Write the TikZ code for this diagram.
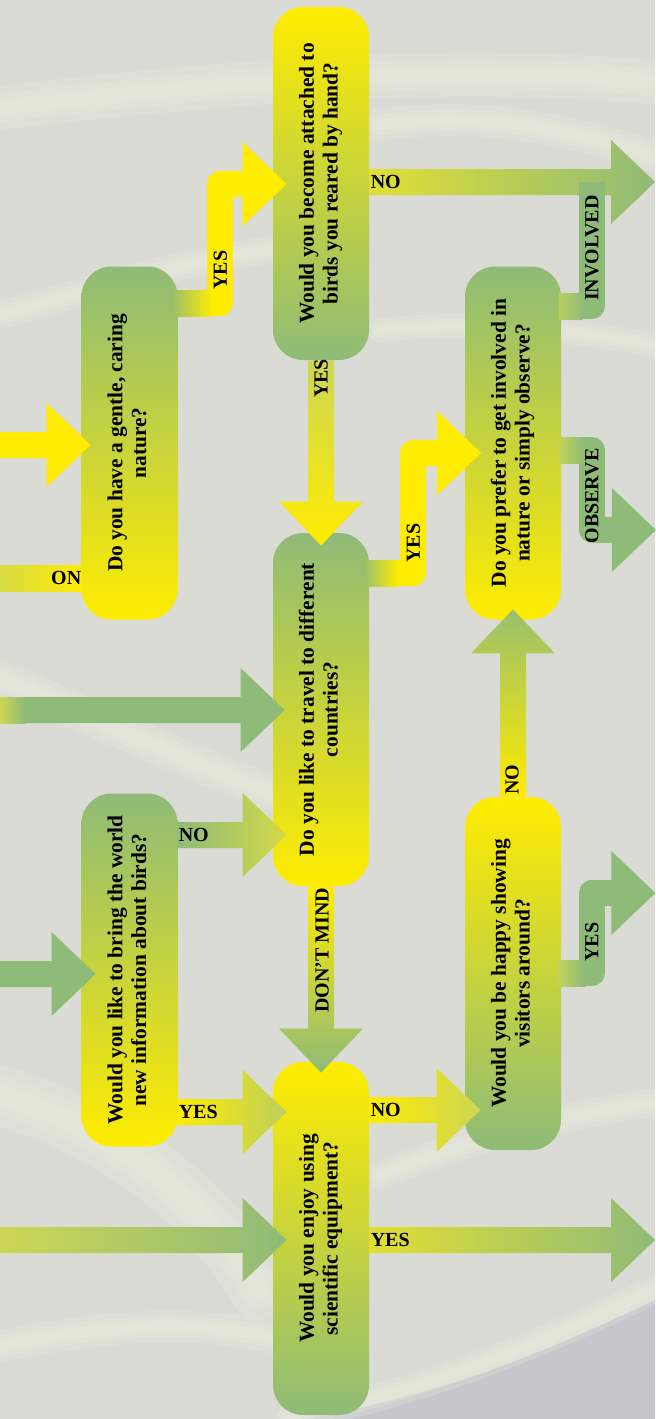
\documentclass[tikz,border=0pt]{standalone}
\usepackage{fontspec}
\setmainfont{Liberation Serif}
\usetikzlibrary{calc}
\definecolor{YE}{HTML}{FFEC00}
\definecolor{GR}{HTML}{8FBB78}
\definecolor{MID}{HTML}{CDD655}
\definecolor{BG}{HTML}{DADBD5}
\definecolor{LT}{HTML}{EEF0DF}
\definecolor{DK}{HTML}{C6C6CB}
\newcommand\harrow[3]{\path[#3] ($(#1)+(0,-13)$) -- ($(#2)+(-44,-13)$) -- ($(#2)+(-44,-42)$) -- (#2) -- ($(#2)+(-44,42)$) -- ($(#2)+(-44,13)$) -- ($(#1)+(0,13)$) -- cycle;}
\newcommand\vdown[3]{\path[#3] ($(#1)+(-13,0)$) -- ($(#2)+(-13,-44)$) -- ($(#2)+(-42,-44)$) -- (#2) -- ($(#2)+(42,-44)$) -- ($(#2)+(13,-44)$) -- ($(#1)+(13,0)$) -- cycle;}
\newcommand\vup[3]{\path[#3] ($(#1)+(-13,0)$) -- ($(#2)+(-13,44)$) -- ($(#2)+(-42,44)$) -- (#2) -- ($(#2)+(42,44)$) -- ($(#2)+(13,44)$) -- ($(#1)+(13,0)$) -- cycle;}
\newcommand\headR[2]{\path[#2] ($(#1)+(-44,-42)$) -- (#1) -- ($(#1)+(-44,42)$) -- cycle;}
\newcommand\qtext[2]{\rotatebox{90}{\begin{tabular}{@{}c@{}}#1\\#2\end{tabular}}}
\newcommand\softband[2]{%
 \draw[LT,opacity=.22,line width=#1*1pt,line cap=round] #2;
 \draw[LT,opacity=.22,line width=#1*0.65pt,line cap=round] #2;
 \draw[LT,opacity=.25,line width=#1*0.35pt,line cap=round] #2;}
\begin{document}
\begin{tikzpicture}[x=0.5pt,y=-0.5pt,
 box/.style={rectangle,rounded corners=15pt,minimum width=48pt,minimum height=176.5pt,inner sep=0pt,font=\bfseries\fontsize{10.7}{11.8}\selectfont},
 yg/.style={top color=YE,bottom color=GR},
 gy/.style={top color=GR,bottom color=YE},
 lbl/.style={inner sep=0pt,font=\bfseries\fontsize{10}{12}\selectfont},
 vlbl/.style={lbl,rotate=90},
 elbow/.style={line width=13pt,line join=round},
 ]
\useasboundingbox (0,0) rectangle (655,1419);
% background
\fill[BG] (0,0) rectangle (655,1419);
\begin{scope}
\clip (0,0) rectangle (655,1419);
\softband{22}{(-20,110) .. controls (200,85) and (450,60) .. (680,85)}
\softband{16}{(380,125) .. controls (480,110) and (580,130) .. (680,165)}
\softband{14}{(-20,320) .. controls (80,295) and (160,265) .. (270,250)}
\softband{18}{(-20,670) .. controls (90,715) and (180,760) .. (290,800)}
\softband{30}{(-20,1090) .. controls (100,1120) and (200,1190) .. (260,1290)}
\softband{14}{(380,1175) .. controls (480,1135) and (580,1110) .. (680,1100)}
\softband{16}{(-20,1350) .. controls (120,1320) and (220,1320) .. (300,1345)}
\softband{12}{(380,330) .. controls (480,320) and (580,330) .. (680,350)}
\fill[DK] (300,1419) .. controls (450,1395) and (560,1345) .. (655,1300) -- (655,1419) -- cycle;
\softband{14}{(290,1419) .. controls (450,1385) and (560,1335) .. (680,1278)}
\end{scope}
% boxes
\node[box,yg] (B1) at (321,183.5) {\qtext{Would you become attached to}{birds you reared by hand?}};
\node[box,gy] (B2) at (129.5,443) {\qtext{Do you have a gentle, caring}{nature?}};
\node[box,gy] (B3) at (513,443) {\qtext{Do you prefer to get involved in}{nature or simply observe?}};
\node[box,gy] (B4) at (321,709.5) {\qtext{Do you like to travel to different}{countries?}};
\node[box,gy] (B5) at (129.5,970) {\qtext{Would you like to bring the world}{new information about birds?}};
\node[box,yg] (B6) at (321,1238.5) {\qtext{Would you enjoy using}{scientific equipment?}};
\node[box,yg] (B7) at (513,973.5) {\qtext{Would you be happy showing}{visitors around?}};
% helper coordinates
\coordinate (L) at (0,0);
\coordinate (R) at (655,0);
\coordinate (B4tip) at ($(B4.west)+(14,0)$);
\coordinate (B6tip) at ($(B6.west)+(14,0)$);
\coordinate (B7tip) at ($(B7.west)+(16,0)$);
\coordinate (a6c) at ($(B2.east)+(42.5,0)$);
\coordinate (a10c) at ($(B4.east)+(44,0)$);
\coordinate (a8c) at ($(B3.east)+(30.5,0)$);
% A1 incoming yellow to B2
\coordinate (a1t) at ($(B2.west)+(9.5,2)$);
\harrow{a1t -| L}{a1t}{fill=YE}
% A2 "ON" bar from B2
\coordinate (a2s) at ($(B2.west)+(0.5,135)$);
\path[left color=MID!80!YE,right color=YE] ($(a2s)+(0,-13)$) rectangle ($(a2s -| L)+(0,13)$);
% A3 incoming green to B4
\coordinate (a3t) at ($(B4.west)+(12,0.5)$);
\harrow{a3t -| L}{a3t}{fill=GR}
\path[left color=MID,right color=GR] ($(a3t -| L)+(0,-13)$) rectangle ($(a3t -| L)+(25,13)$);
% A4 incoming green to B5
\coordinate (a4t) at ($(B5.west)+(14.5,4)$);
\harrow{a4t -| L}{a4t}{fill=GR}
% A5 incoming to B6
\coordinate (a5t) at ($(B6.west)+(14,1.5)$);
\harrow{a5t -| L}{a5t}{left color=MID,right color=GR}
% A6 YES B2 -> B1
\coordinate (a6s) at ($(B2.east)+(-3.5,-140)$);
\coordinate (a6t) at ($(B1.west)+(14,0.5)$);
\draw[YE,elbow] (a6s) -| (a6c |- a6t) -- ($(a6t)+(-40,0)$);
\headR{a6t}{fill=YE}
\path[left color=GR!85!YE,right color=YE] ($(a6s)+(0,-13)$) rectangle ($(a6s)+(38,13)$);
% A7 NO from B1
\coordinate (a7s) at ($(B1.east)+(0,-1.5)$);
\harrow{a7s}{a7s -| R}{left color=MID!60!YE,right color=GR}
% A8 INVOLVED B3 -> joins A7
\coordinate (a8s) at ($(B3.east)+(-2.5,-137)$);
\draw[GR,elbow] (a8s) -| (a8c |- a7s);
\path[left color=MID!70!GR,right color=GR] ($(a8s)+(0,-13)$) rectangle ($(a8s)+(24,13)$);
% A9 YES B1 -> B4
\coordinate (a9t) at ($(B4.north)+(0,13)$);
\vdown{B1.south}{a9t}{top color=MID,middle color=YE,bottom color=YE}
% A10 YES B4 -> B3
\coordinate (a10s) at ($(B4.east)+(-3,-136.5)$);
\coordinate (a10t) at ($(B3.west)+(16.5,10)$);
\draw[YE,elbow] (a10s) -| (a10c |- a10t) -- ($(a10t)+(-40,0)$);
\headR{a10t}{fill=YE}
\path[left color=GR!85!YE,right color=YE] ($(a10s)+(0,-13)$) rectangle ($(a10s)+(32,13)$);
% A11 OBSERVE from B3
\coordinate (a11s) at ($(B3.east)+(-2.5,7)$);
\coordinate (a11t) at ($(B3.east)+(94.5,87)$);
\draw[GR,elbow] (a11s) -| (a8c |- a11t) -- ($(a11t)+(-40,0)$);
\headR{a11t}{fill=GR}
\path[left color=MID!85!GR,right color=GR] ($(a11s)+(0,-13)$) rectangle ($(a11s)+(26,13)$);
% A12 NO B7 -> B3
\coordinate (a12t) at ($(B3.south)+(0,-10.5)$);
\vup{B7.north}{a12t}{top color=GR!90!YE,middle color=YE,bottom color=YE}
% A13 NO B5 -> B4
\coordinate (a13s) at ($(B5.east)+(-0.5,-135)$);
\harrow{a13s}{a13s -| B4tip}{left color=GR,right color=MID!85!YE}
% A14 DON'T MIND B4 -> B6
\coordinate (a14t) at ($(B6.north)+(0,11)$);
\vdown{B4.south}{a14t}{top color=YE,bottom color=GR}
% A15 YES B5 -> B6
\coordinate (a15s) at ($(B5.east)+(-0.5,142)$);
\harrow{a15s}{a15s -| B6tip}{left color=YE,right color=MID!75!GR}
% A16 NO B6 -> B7
\coordinate (a16s) at ($(B6.east)+(0,-128.5)$);
\harrow{a16s}{a16s -| B7tip}{left color=YE,right color=MID}
% A17 YES from B6
\coordinate (a17s) at ($(B6.east)+(0,1.5)$);
\harrow{a17s}{a17s -| R}{left color=MID!60!YE,right color=GR}
% A18 YES from B7
\coordinate (a18s) at ($(B7.east)+(-3,-0.5)$);
\coordinate (a18t) at ($(B7.east)+(94,-80.5)$);
\draw[GR,elbow] (a18s) -| (a8c |- a18t) -- ($(a18t)+(-40,0)$);
\headR{a18t}{fill=GR}
\path[left color=MID!85!GR,right color=GR] ($(a18s)+(0,-13)$) rectangle ($(a18s)+(27,13)$);
% labels
\node[lbl,anchor=east] (l2) at ($(a2s)+(0,0)$) {ON};
\node[vlbl] (l6) at ($(a6c |- a6s)+(0,-33)$) {YES};
\node[lbl,anchor=west] (l7) at ($(a7s)+(1,0)$) {NO};
\node[vlbl] (l8) at ($(a8c |- a8s)+(0,-58)$) {INVOLVED};
\node[vlbl] (l9) at ($(B1.south)+(0,18)$) {YES};
\node[vlbl] (l10) at ($(a10c |- a10s)+(0,-30)$) {YES};
\node[vlbl] (l11) at ($(a8c |- a11s)+(0,46)$) {OBSERVE};
\node[vlbl] (l12) at ($(B7.north)+(-1,-17)$) {NO};
\node[lbl,anchor=west] (l13) at ($(a13s)+(1,0)$) {NO};
\node[vlbl] (l14) at ($(B4.south)+(1,64)$) {DON’T MIND};
\node[lbl,anchor=west] (l15) at ($(a15s)+(1,0)$) {YES};
\node[lbl,anchor=west] (l16) at ($(a16s)+(1,0)$) {NO};
\node[lbl,anchor=west] (l17) at ($(a17s)+(1,0)$) {YES};
\node[vlbl] (l18) at ($(a8c |- a18s)+(0,-31)$) {YES};
\end{tikzpicture}
\end{document}
